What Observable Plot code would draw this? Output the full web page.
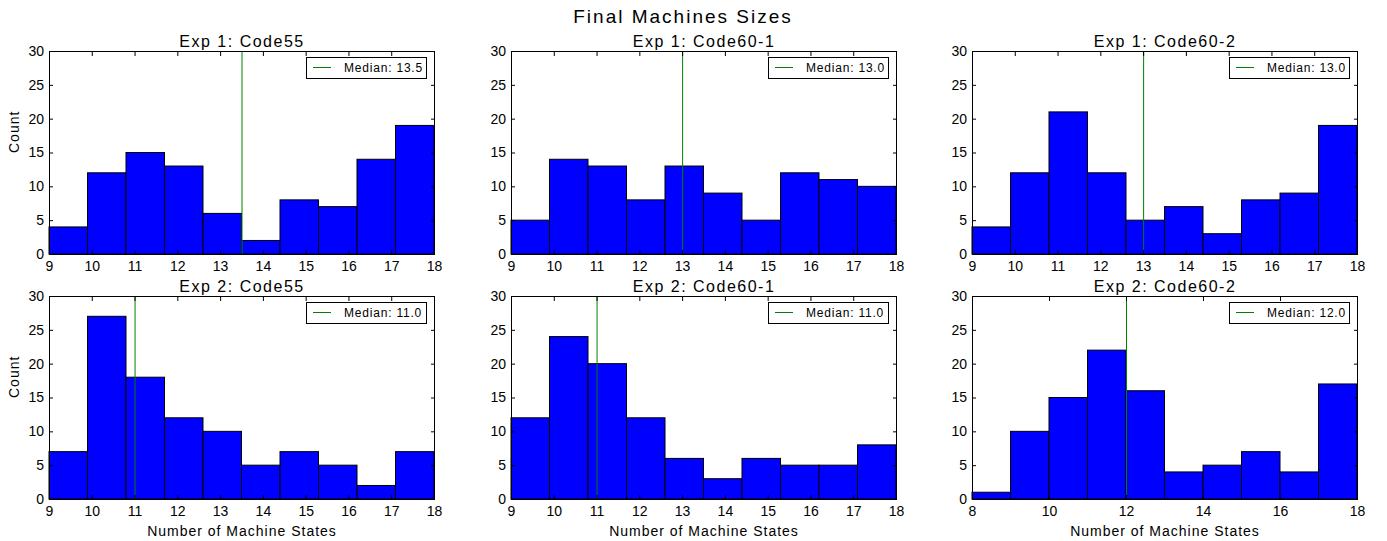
<!DOCTYPE html>
<html><head><meta charset="utf-8">
<script src="https://cdn.jsdelivr.net/npm/d3@7"></script>
<script src="https://cdn.jsdelivr.net/npm/@observablehq/plot@0.6"></script>
<style>
body{margin:0;background:#fff;font-family:"Liberation Sans",Arial,sans-serif;color:#000;}
#wrap{position:relative;width:1387px;height:541px;overflow:hidden;background:#fff;}
.panel{position:absolute;}
#title{position:absolute;left:0;top:7px;width:1366px;text-align:center;font-size:19px;line-height:19px;letter-spacing:2px;}
.legend{position:absolute;height:22px;border:1px solid #000;background:#fff;box-sizing:border-box;font-size:12px;letter-spacing:0.8px;}
.legend .ln{position:absolute;left:6px;top:9px;width:18px;height:1px;background:#008000;}
.legend .tx{position:absolute;left:37px;top:0;line-height:20px;white-space:nowrap;}
</style>
</head><body>
<div id="wrap"><div id="title">Final Machines Sizes</div></div>
<script>
// ---- data ----
const panelTitles = ["Exp 1: Code55", "Exp 1: Code60-1", "Exp 1: Code60-2", "Exp 2: Code55", "Exp 2: Code60-1", "Exp 2: Code60-2"];
const exp1Code55   = [4, 12, 15, 13, 6, 2, 8, 7, 14, 19];
const exp1Code60_1 = [5, 14, 13, 8, 13, 9, 5, 12, 11, 10];
const exp1Code60_2 = [4, 12, 21, 12, 5, 7, 3, 8, 9, 19];
const exp2Code55   = [7, 27, 18, 12, 10, 5, 7, 5, 2, 7];
const exp2Code60_1 = [12, 24, 20, 12, 6, 3, 6, 5, 5, 8];
const exp2Code60_2 = [1, 10, 15, 22, 16, 4, 5, 7, 4, 17];
const medians = [13.5, 13.0, 13.0, 11.0, 11.0, 12.0];
const ranges = [[9, 18], [9, 18], [9, 18], [9, 18], [9, 18], [8, 18]];
const xTicksA = [9, 10, 11, 12, 13, 14, 15, 16, 17, 18];
const xTicksB = [8, 10, 12, 14, 16, 18];
const yTicks = [0, 5, 10, 15, 20, 25, 30];
const xLabel = "Number of Machine States";
const yLabel = "Count";

const allCounts = [exp1Code55, exp1Code60_1, exp1Code60_2, exp2Code55, exp2Code60_1, exp2Code60_2];
const allTicks = [xTicksA, xTicksA, xTicksA, xTicksA, xTicksA, xTicksB];

// ---- layout ----
const frameX = [49, 511, 972];
const frameY = [51, 296];
const FW = 385, FH = 203;
const ML = 45, MR = 20, MT = 30;

const wrap = document.getElementById("wrap");

allCounts.forEach((counts, i) => {
  const row = Math.floor(i / 3), col = i % 3;
  const [lo, hi] = ranges[i];
  const step = (hi - lo) / counts.length;
  const bins = counts.map((c, k) => ({x1: lo + k * step, x2: lo + (k + 1) * step, count: c}));
  const MB = row === 0 ? 30 : 42;
  const marks = [
    Plot.rectY(bins, {x1: "x1", x2: "x2", y1: 0, y2: "count", fill: "#0000ff", stroke: "#000", strokeWidth: 1, inset: 0}),
    Plot.ruleX([medians[i]], {x: d => d, stroke: "#008000", strokeWidth: 1}),
    Plot.frame({stroke: "#000", strokeWidth: 1}),
    Plot.axisX({anchor: "bottom", ticks: allTicks[i], tickSize: -4, tickPadding: 11, label: null, tickFormat: d => String(d)}),
    Plot.axisX({anchor: "top", ticks: allTicks[i], tickSize: -4, tickFormat: () => "", label: null}),
    Plot.axisY({anchor: "left", ticks: yTicks, tickSize: -4, tickPadding: 9.5, label: null, tickFormat: d => String(d)}),
    Plot.axisY({anchor: "right", ticks: yTicks, tickSize: -4, tickFormat: () => "", label: null}),
    Plot.text([panelTitles[i]], {text: d => d, frameAnchor: "top", dy: -5, lineAnchor: "bottom", fontSize: 16})
  ];
  if (col === 0) marks.push(Plot.text([yLabel], {text: d => d, frameAnchor: "left", dx: -35, rotate: -90, fontSize: 14}));
  if (row === 1) marks.push(Plot.text([xLabel], {text: d => d, frameAnchor: "bottom", dy: 36, lineAnchor: "bottom", fontSize: 14}));
  const svg = Plot.plot({
    width: ML + FW + MR,
    height: MT + FH + MB,
    marginLeft: ML, marginRight: MR, marginTop: MT, marginBottom: MB,
    x: {domain: [lo, hi]},
    y: {domain: [0, 30]},
    style: {background: "none", overflow: "visible", fontFamily: "'Liberation Sans', Arial, sans-serif", fontSize: "14px", color: "#000"},
    marks
  });
  const texts = d3.select(svg).selectAll('g[aria-label="text"]');
  texts.each(function(_, j) {
    d3.select(this).selectAll("text").style("letter-spacing", j === 0 ? "1.5px" : "1px");
  });
  svg.classList.add("panel");
  svg.style.position = "absolute";
  svg.style.left = (frameX[col] - ML) + "px";
  svg.style.top = (frameY[row] - MT) + "px";
  wrap.appendChild(svg);

  // legend
  const lg = document.createElement("div");
  lg.className = "legend";
  const w = 121;
  lg.style.width = w + "px";
  lg.style.left = (frameX[col] + FW - 7 - w) + "px";
  lg.style.top = (frameY[row] + 6) + "px";
  lg.innerHTML = `<div class="ln"></div><div class="tx">Median: ${medians[i].toFixed(1)}</div>`;
  wrap.appendChild(lg);
});
</script>
</body></html>
